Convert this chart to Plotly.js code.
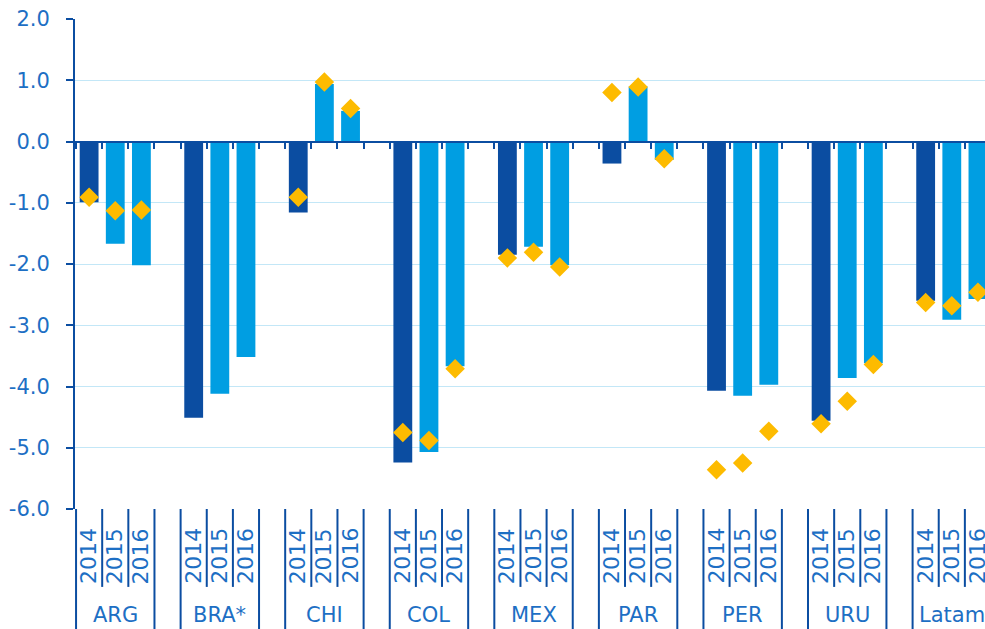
<!DOCTYPE html>
<html>
<head>
<meta charset="utf-8">
<script src="https://cdn.plot.ly/plotly-3.0.1.min.js"></script>
<style>html,body{margin:0;padding:0;background:#fff}#chart{width:985px;height:629px}</style>
</head>
<body>
<div id="chart"></div>
<script>
// ---- data ----
const countries = ['ARG', 'BRA*', 'CHI', 'COL', 'MEX', 'PAR', 'PER', 'URU', 'Latam'];
const years = ['2014', '2015', '2016'];
const bars2014 = [-0.99, -4.51, -1.16, -5.24, -1.85, -0.36, -4.07, -4.56, -2.60];
const bars2015 = [-1.67, -4.12, 0.94, -5.07, -1.72, 0.90, -4.15, -3.86, -2.91];
const bars2016 = [-2.02, -3.52, 0.50, -3.67, -2.02, -0.30, -3.97, -3.62, -2.57];
const dia2014 = [-0.91, null, -0.91, -4.75, -1.90, 0.80, -5.36, -4.61, -2.63];
const dia2015 = [-1.13, null, 0.97, -4.88, -1.81, 0.89, -5.25, -4.24, -2.68];
const dia2016 = [-1.12, null, 0.54, -3.71, -2.05, -0.28, -4.73, -3.64, -2.46];
const yTicks = [-6, -5, -4, -3, -2, -1, 0, 1, 2];
const yTickText = ['-6.0', '-5.0', '-4.0', '-3.0', '-2.0', '-1.0', '0.0', '1.0', '2.0'];

// ---- layout helpers ----
const SLOTS = 4; // 3 years + gap
const pos = (g, j) => g * SLOTS + j;
const barSeries = [bars2014, bars2015, bars2016];
const diaSeries = [dia2014, dia2015, dia2016];
const darkBlue = '#0b4da1';
const lightBlue = '#009ee2';
const textBlue = '#1d6fc4';
const gold = '#fdbb00';
const gridBlue = '#c3e7f7';
const FONT = 'DejaVu Sans';
const xr = [-0.54, 34.27];

const traces = [];
barSeries.forEach((vals, j) => {
  traces.push({
    type: 'bar',
    x: countries.map((c, g) => pos(g, j)),
    y: vals,
    width: 0.72,
    marker: {color: j === 0 ? darkBlue : lightBlue, line: {width: 0}},
    xaxis: 'x', yaxis: 'y',
    hoverinfo: 'skip', showlegend: false
  });
});
const dx = [], dy = [];
diaSeries.forEach((vals, j) => {
  vals.forEach((v, g) => { dx.push(pos(g, j)); dy.push(v); });
});
traces.push({
  type: 'scatter', mode: 'markers',
  x: dx, y: dy,
  marker: {symbol: 'diamond', size: 15, color: gold, line: {width: 0}},
  xaxis: 'x2', yaxis: 'y', cliponaxis: false,
  hoverinfo: 'skip', showlegend: false
});

const boundaryVals = [];
for (let k = 0; k < countries.length * SLOTS; k++) boundaryVals.push(k - 0.5);

const shapes = [];
const annotations = [];
countries.forEach((c, g) => {
  for (let j = 0; j <= years.length; j++) {
    const long = (j === 0 || j === years.length);
    shapes.push({
      type: 'line', xref: 'x', yref: 'paper',
      x0: pos(g, j) - 0.5, x1: pos(g, j) - 0.5,
      y0: 0, y1: long ? -0.26 : -0.159,
      line: {color: darkBlue, width: 2}
    });
  }
  years.forEach((yr, j) => {
    annotations.push({
      xref: 'x', yref: 'paper', x: pos(g, j), y: -0.0367,
      text: yr, showarrow: false, textangle: -90,
      xanchor: 'center', yanchor: 'top', borderpad: 0,
      font: {family: FONT, size: 22, color: textBlue}
    });
  });
  annotations.push({
    xref: 'x', yref: 'paper', x: pos(g, 1), y: -0.216,
    text: c, showarrow: false, xanchor: 'center', yanchor: 'middle',
    font: {family: FONT, size: 21, color: textBlue}
  });
});

const layout = {
  width: 985, height: 629,
  margin: {l: 75, r: 0, t: 19, b: 120},
  paper_bgcolor: '#ffffff', plot_bgcolor: '#ffffff',
  barmode: 'overlay',
  showlegend: false,
  xaxis: {
    range: xr, domain: [0, 1],
    showgrid: false, zeroline: false, showline: false,
    showticklabels: false, ticks: '',
    fixedrange: true
  },
  xaxis2: {
    range: xr, overlaying: 'x', anchor: 'free', position: 0.75,
    showgrid: false, zeroline: false,
    showline: true, linecolor: darkBlue, linewidth: 2,
    tickmode: 'array', tickvals: boundaryVals, showticklabels: false,
    ticks: 'outside', ticklen: 6, tickwidth: 2, tickcolor: darkBlue,
    side: 'bottom'
  },
  yaxis: {
    range: [-6, 2], domain: [0, 1],
    tickmode: 'array', tickvals: yTicks, ticktext: yTickText,
    showgrid: true, gridcolor: gridBlue, gridwidth: 1,
    zeroline: false,
    showline: true, linecolor: darkBlue, linewidth: 2,
    ticks: 'outside', ticklen: 7, tickwidth: 2, tickcolor: darkBlue,
    ticklabelstandoff: 12,
    tickfont: {family: FONT, size: 21, color: textBlue}
  },
  shapes: shapes,
  annotations: annotations
};

Plotly.newPlot('chart', traces, layout, {staticPlot: true, displayModeBar: false});
</script>
</body>
</html>
